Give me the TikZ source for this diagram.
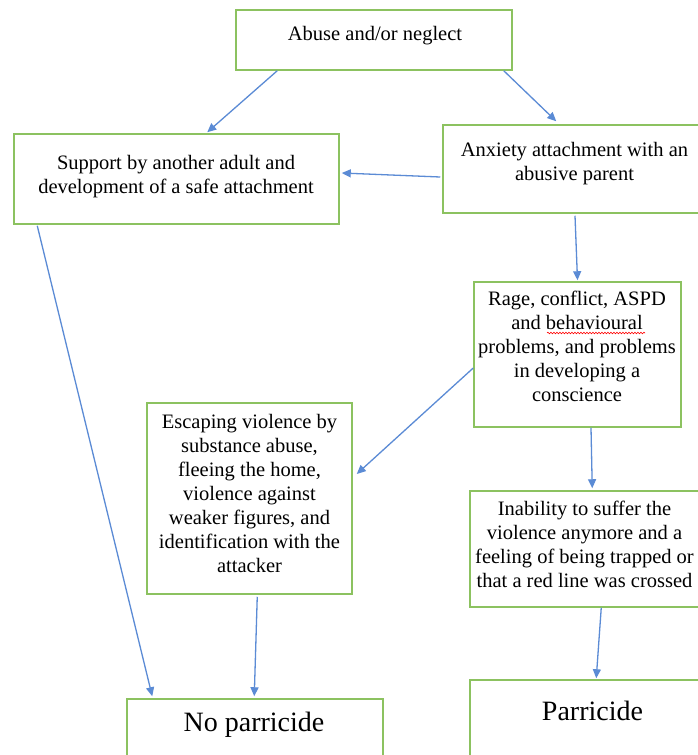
\documentclass[tikz,border=0pt]{standalone}
\usepackage{fontspec}
\setmainfont{Liberation Serif}
\usetikzlibrary{arrows.meta,decorations.pathmorphing}
\definecolor{boxgreen}{HTML}{8CC260}
\definecolor{arrowblue}{HTML}{5B8BD5}
\tikzset{
  box/.style={draw=boxgreen, line width=1.5pt, fill=none, inner sep=0pt, rectangle},
  boxtext/.style={anchor=north, inner sep=0pt, align=center, text=black,
    font=\fontsize{20.5}{24}\selectfont},
  bigtext/.style={anchor=north, inner sep=0pt, align=center, text=black,
    font=\fontsize{28}{32}\selectfont},
  conn/.style={draw=arrowblue, line width=1.3pt, -{Triangle[length=9pt,width=8pt]}}
}
\begin{document}
\begin{tikzpicture}[x=1pt,y=-1pt]
\useasboundingbox (0,0) rectangle (698,755);
\fill[white] (0,0) rectangle (698,755);
\clip (0,0) rectangle (698,755);

% boxes
\node[box, minimum width=276pt, minimum height=60pt] (abuse) at (374,40) {};
\node[box, minimum width=325pt, minimum height=90pt] (support) at (176.5,179) {};
\node[box, minimum width=270pt, minimum height=88pt] (anxiety) at (578,169) {};
\node[box, minimum width=207pt, minimum height=145pt] (rage) at (577.5,354.5) {};
\node[box, minimum width=205pt, minimum height=191pt] (escaping) at (249.5,498.5) {};
\node[box, minimum width=236pt, minimum height=116pt] (inability) at (588,549) {};
\node[box, minimum width=256pt, minimum height=72pt] (noparr) at (255,735) {};
\node[box, minimum width=245pt, minimum height=90pt] (parr) at (592.5,725) {};

% texts
\node[boxtext] (tabuse) at (375,26) {Abuse and/or neglect};
\node[boxtext] (tsupport) at (176,155) {Support by another adult and\\development of a safe attachment};
\node[boxtext] (tanxiety) at (574.5,142) {Anxiety attachment with an\\abusive parent};
\node[boxtext] (trage) at (577,291) {Rage, conflict, ASPD\\and behavioural\\problems, and problems\\in developing a\\conscience};
\node[boxtext] (tescaping) at (249.5,414) {Escaping violence by\\substance abuse,\\fleeing the home,\\violence against\\weaker figures, and\\identification with the\\attacker};
\node[boxtext] (tinability) at (584.5,501) {Inability to suffer the\\violence anymore and a\\feeling of being trapped or\\that a red line was crossed};
\node[bigtext] (tnoparr) at (254,712) {No parricide};
\node[bigtext] (tparr) at (592.5,701) {Parricide};

% spell-check underline
\draw[red, line width=0.6pt, decorate, decoration={snake, amplitude=0.8pt, segment length=3pt}]
  (547,333) -- (645,333);

% connectors
\draw[conn] ([xshift=42pt]abuse.south west) -- ([xshift=194pt,yshift=1pt]support.north west);
\draw[conn] ([xshift=-9pt]abuse.south east) -- ([xshift=114pt,yshift=3pt]anxiety.north west);
\draw[conn] ([yshift=-8pt,xshift=-2pt]anxiety.west) -- ([yshift=6pt,xshift=2pt]support.east);
\draw[conn] ([xshift=-3pt,yshift=-2pt]anxiety.south) -- ([xshift=0pt,yshift=1pt]rage.north);
\draw[conn] ([yshift=-13.5pt]rage.west) -- ([yshift=24.5pt,xshift=4pt]escaping.east);
\draw[conn] ([xshift=13.5pt]rage.south) -- ([xshift=123pt,yshift=2pt]inability.north west);
\draw[conn] ([xshift=132pt]inability.south west) -- ([xshift=127pt,yshift=1pt]parr.north west);
\draw[conn] ([xshift=24pt,yshift=-1pt]support.south west) -- ([xshift=26pt,yshift=2pt]noparr.north west);
\draw[conn] ([xshift=111pt,yshift=-2pt]escaping.south west) -- ([xshift=128pt,yshift=2pt]noparr.north west);
\end{tikzpicture}
\end{document}
